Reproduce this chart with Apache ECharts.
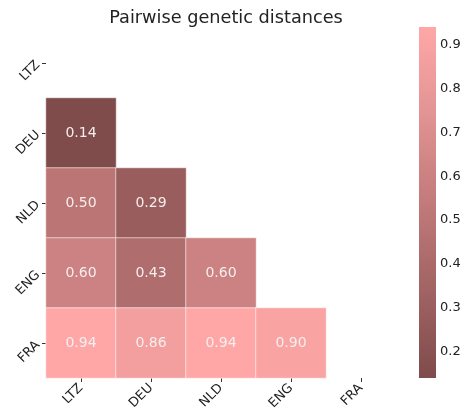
<!DOCTYPE html>
<html>
<head>
<meta charset="utf-8">
<script src="https://cdn.jsdelivr.net/npm/echarts@6/dist/echarts.min.js"></script>
<style>
  html, body { margin: 0; padding: 0; background: #fff; }
  #chart { width: 469px; height: 416px; }
</style>
</head>
<body>
<div id="chart"></div>
<script>
// Populations, in row/column order
const populations = ['LTZ', 'DEU', 'NLD', 'ENG', 'FRA'];

// Lower triangle of the distance matrix, one array per row (row i has i values)
const rowLTZ = [];
const rowDEU = [0.14];
const rowNLD = [0.50, 0.29];
const rowENG = [0.60, 0.43, 0.60];
const rowFRA = [0.94, 0.86, 0.94, 0.90];

// Colour bar range and tick labels
const scaleMin = 0.14;
const scaleMax = 0.94;
const colorbarTicks = [0.2, 0.3, 0.4, 0.5, 0.6, 0.7, 0.8, 0.9];

const rows = [rowLTZ, rowDEU, rowNLD, rowENG, rowFRA];
const cells = [];
rows.forEach((vals, r) => {
  vals.forEach((v, c) => cells.push([c, r, v]));
});

const rampColors = ['#804b4b', '#a16363', '#c27a7a', '#e29393', '#ffa7a7'];
const textColor = '#222222';
const font = 'DejaVu Sans';

const chart = echarts.init(document.getElementById('chart'), null, { renderer: 'canvas' });

chart.setOption({
  backgroundColor: '#ffffff',
  animation: false,
  title: {
    text: 'Pairwise genetic distances',
    left: 221,
    top: 4,
    textAlign: 'center',
    textStyle: { fontFamily: font, fontSize: 17.7, fontWeight: 'normal', color: textColor }
  },
  grid: [
    { left: 46, top: 28, width: 350, height: 350 },
    { left: 419, top: 27, width: 17, height: 351 }
  ],
  xAxis: [
    {
      type: 'category',
      gridIndex: 0,
      data: populations,
      axisLine: { show: false },
      axisTick: { show: true, length: 4, lineStyle: { color: '#333' }, alignWithLabel: true },
      axisLabel: { rotate: 45, margin: 8, color: textColor, fontFamily: font, fontSize: 13 }
    },
    { type: 'value', gridIndex: 1, show: false, min: 0, max: 1 }
  ],
  yAxis: [
    {
      type: 'category',
      gridIndex: 0,
      data: populations,
      inverse: true,
      axisLine: { show: false },
      axisTick: { show: true, length: 4, lineStyle: { color: '#333' }, alignWithLabel: true },
      axisLabel: { rotate: 45, margin: 8, color: textColor, fontFamily: font, fontSize: 13 }
    },
    {
      type: 'value',
      gridIndex: 1,
      position: 'right',
      min: scaleMin,
      max: scaleMax,
      splitLine: { show: false },
      axisLine: { show: false },
      axisTick: { show: true, length: 4, lineStyle: { color: '#333' }, customValues: colorbarTicks },
      axisLabel: {
        margin: 4, color: textColor, fontFamily: font, fontSize: 13,
        customValues: colorbarTicks,
        formatter: v => v.toFixed(1)
      }
    }
  ],
  visualMap: {
    type: 'continuous',
    show: false,
    seriesIndex: 0,
    min: scaleMin,
    max: scaleMax,
    inRange: { color: rampColors }
  },
  series: [
    {
      type: 'heatmap',
      xAxisIndex: 0,
      yAxisIndex: 0,
      data: cells,
      itemStyle: { borderColor: 'rgba(255,255,255,0.55)', borderWidth: 1 },
      label: {
        show: true,
        color: '#f5eeee',
        fontFamily: font,
        fontSize: 14,
        formatter: p => p.value[2].toFixed(2)
      },
      emphasis: { disabled: true }
    },
    {
      // colour bar: one gradient rectangle spanning the value range on the right axis
      type: 'custom',
      xAxisIndex: 1,
      yAxisIndex: 1,
      silent: true,
      data: [[0, 1, scaleMin, scaleMax]],
      renderItem: (params, api) => {
        const p0 = api.coord([api.value(0), api.value(2)]);
        const p1 = api.coord([api.value(1), api.value(3)]);
        const stops = rampColors.map((c, i) => ({ offset: 1 - i / (rampColors.length - 1), color: c }));
        return {
          type: 'rect',
          shape: { x: p0[0], y: p1[1], width: p1[0] - p0[0], height: p0[1] - p1[1] },
          style: { fill: new echarts.graphic.LinearGradient(0, 0, 0, 1, stops.reverse()) }
        };
      }
    }
  ]
});
</script>
</body>
</html>
